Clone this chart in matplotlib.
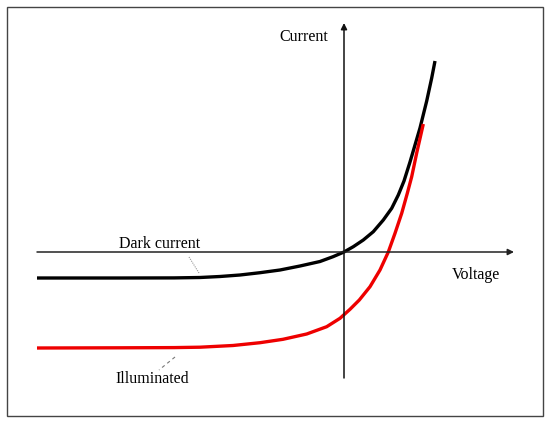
import matplotlib
matplotlib.use("Agg")
import matplotlib.pyplot as plt
from matplotlib.patches import Rectangle

# Values (arbitrary units: voltage, current)
dark_voltage = [-307, -224, -170, -144, -124, -104, -84, -64, -44, -24, -11, 0, 9.3, 19.3, 29.3,
                39.3, 47.7, 54.3, 60, 66, 76, 82.7, 87.7, 91]
dark_current = [-26, -26, -25.9, -25.5, -24.5, -23, -20.7, -18, -14, -9.5, -4.7, 0, 5.3, 12, 20.3,
                32, 43.7, 57, 71, 90, 124, 151, 174, 191]

illum_voltage = [-307, -224, -170, -144, -111, -84, -61, -37.3, -17.3, -4, 6, 15.3, 26, 36,
                 44.3, 51, 57.7, 63.3, 67.7, 72.7, 79.3]
illum_current = [-96, -95.8, -95.6, -95.2, -93.5, -90.7, -87.3, -82, -74.7, -66.3, -57.3, -48,
                 -34.7, -18, 0, 18.7, 38.7, 58.7, 75.3, 99, 128]

xlabel = "Voltage"
ylabel = "Current"
dark_label = "Dark current"
illum_label = "Illuminated"

fig = plt.figure(figsize=(5.5, 4.25), dpi=100)
ax = fig.add_axes([0, 0, 1, 1])
ax.set_xlim(-344, 206)
ax.set_ylim(-173, 252)
ax.axis("off")

# outer frame
ax.add_patch(Rectangle((-337, -164), 536, 409, fill=False, edgecolor="#444444", lw=1.0))

font = dict(family=["Liberation Serif", "DejaVu Serif"], fontsize=11.5, color="black")

# axes with arrows
ax.annotate("", xy=(170, 0), xytext=(-307, 0),
            arrowprops=dict(arrowstyle="-|>", lw=1.1, color="#222222", mutation_scale=9, shrinkA=0, shrinkB=0))
ax.annotate("", xy=(0, 229), xytext=(0, -126),
            arrowprops=dict(arrowstyle="-|>", lw=1.1, color="#111111", mutation_scale=9, shrinkA=0, shrinkB=0))

ax.plot(dark_voltage, dark_current, color="black", lw=2.4, solid_capstyle="butt", solid_joinstyle="round")
ax.plot(illum_voltage, illum_current, color="#ee0000", lw=2.4, solid_capstyle="butt", solid_joinstyle="round")

ax.text(-40, 215, ylabel, ha="center", va="center", **font)
ax.text(132, -23, xlabel, ha="center", va="center", **font)
ax.text(-184, 8, dark_label, ha="center", va="center", **font)
ax.text(-192, -127, illum_label, ha="center", va="center", **font)

# leader lines
ax.plot([-155, -145], [-5, -21], color="#999999", lw=0.8, ls=(0, (1, 1)))
ax.plot([-169, -185], [-105, -118], color="#777777", lw=0.8, ls=(0, (3, 3)))

fig.savefig("out.png", dpi=100)
